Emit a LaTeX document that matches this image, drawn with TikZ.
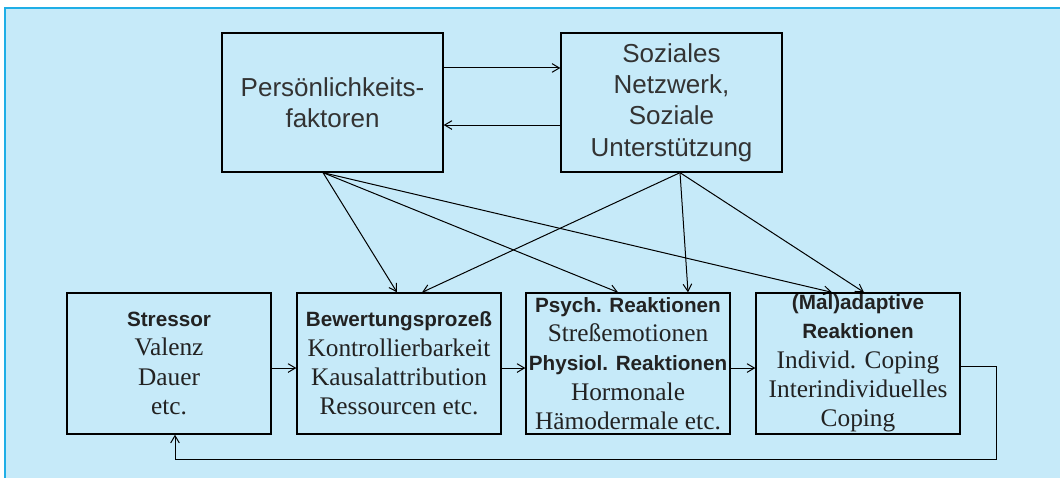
\documentclass[tikz,border=0pt]{standalone}
\usepackage{fontspec}
\setmainfont{Liberation Serif}
\setsansfont{Liberation Sans}
\usetikzlibrary{arrows.meta}

\definecolor{panel}{HTML}{C6EAF9}
\definecolor{panelrule}{HTML}{1FAEE6}
\definecolor{ink}{HTML}{222222}
\definecolor{softink}{HTML}{333333}

\newcommand{\head}[1]{{\sffamily\bfseries\fontsize{15.5}{22}\selectfont #1}}

\begin{document}
\begin{tikzpicture}[x=0.75pt,y=-0.75pt]

      \useasboundingbox (0,0) rectangle (1060,478);
      \fill[panel] (5,8) rectangle (1060,478);
      \draw[panelrule, line width=1.5pt] (5,478) -- (5,8) -- (1060,8);

      \begin{scope}[every node/.style={draw, line width=1pt, inner sep=0pt, align=center,
          text=softink, minimum width=165.75pt, minimum height=104.25pt,
          font=\sffamily\fontsize{19.5}{23.5}\selectfont}]
        \node (pers)   at (332.5,102.5) {Persönlichkeits-\\faktoren};
        \node (sozial) at (671.5,102.5) {Soziales\\Netzwerk,\\Soziale\\Unterstützung};
      \end{scope}

      \begin{scope}[every node/.style={draw, line width=1pt, inner sep=0pt, align=center,
          text=ink, minimum width=153pt, minimum height=105.75pt,
          font=\fontsize{19}{22}\selectfont}]
        \node (stressor)  at (169,363.5) {\head{Stressor}\\Valenz\\Dauer\\etc.};
        \node (bewertung) at (399,363.5) {\head{Bewertungsprozeß}\\Kontrollierbarkeit\\Kausalattribution\\Ressourcen etc.};
        \node (reaktion)  at (628,363.5) {\head{Psych. Reaktionen}\\Streßemotionen\\\head{Physiol. Reaktionen}\\Hormonale\\Hämodermale etc.};
        \node (coping)    at (858,363.5) {\head{(Mal)adaptive}\\\head{Reaktionen}\\Individ. Coping\\Interindividuelles\\Coping};
      \end{scope}

      \coordinate (loop) at (996,459);

      \begin{scope}[every edge/.style={draw, line width=0.75pt, -{Straight Barb[length=5.5pt,width=6.5pt]}}]
        \path ([yshift=25.9pt]pers.east) edge ([yshift=25.9pt]sozial.west);
        \path ([yshift=-16.9pt]sozial.west) edge ([yshift=-16.9pt]pers.east);
        \path ([xshift=-7.1pt]pers.south) edge ([xshift=-1.5pt]bewertung.north);
        \path ([xshift=-7.1pt]pers.south) edge ([xshift=-7.5pt]reaktion.north);
        \path ([xshift=-7.1pt]pers.south) edge ([xshift=-19.5pt]coping.north);
        \path ([xshift=6.4pt]sozial.south) edge ([xshift=17.3pt]bewertung.north);
        \path ([xshift=6.4pt]sozial.south) edge ([xshift=45pt]reaktion.north);
        \path ([xshift=6.4pt]sozial.south) edge ([xshift=4.5pt]coping.north);
        \path ([yshift=-3.4pt]stressor.east) edge ([yshift=-3.4pt]bewertung.west);
        \path ([yshift=-3.4pt]bewertung.east) edge ([yshift=-3.4pt]reaktion.west);
        \path ([yshift=-3.4pt]reaktion.east) edge ([yshift=-3.4pt]coping.west);
      \end{scope}

      \draw[line width=0.75pt, -{Straight Barb[length=5.5pt,width=6.5pt]}]
        ([yshift=-2.6pt]coping.east) -| (loop) -| ([xshift=4.5pt]stressor.south);

    \end{tikzpicture}
\end{document}
